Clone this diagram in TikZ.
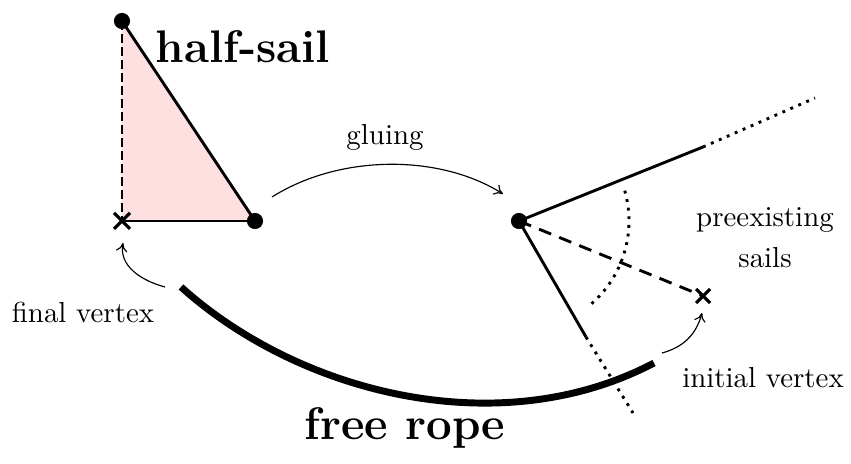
\documentclass[tikz,border=0pt]{standalone}
\usetikzlibrary{arrows.meta}
\definecolor{sailpink}{RGB}{255,224,224}
\begin{document}
\begin{tikzpicture}[x=0.346pt,y=0.346pt,
  edge/.style={line width=1pt},
  vdot/.style={circle,fill=black,inner sep=0pt,minimum size=5.6pt},
  thinarrow/.style={line width=0.4pt,-{To[length=3pt,width=4pt]}},
  lbl/.style={anchor=base,inner sep=0pt,font=\normalsize},
  biglbl/.style={anchor=base,inner sep=0pt,font=\fontsize{15.8}{18}\selectfont\bfseries},
  crossmark/.style={line width=1.1pt}]
\useasboundingbox (0,0) rectangle (851,464);
% half-sail
\coordinate (T) at (122,443);
\coordinate (F) at (122,243);
\coordinate (R) at (255,243);
\fill[sailpink] (T) -- (R) -- (F) -- cycle;
\draw[edge,dash pattern=on 3pt off 1.5pt] (T) -- (F);
\draw[edge] (T) -- (R);
\draw[edge] (F) -- (R);
\node[vdot] (Tn) at (T) {};
\node[vdot] (Rn) at (R) {};
\draw[crossmark] ([shift={(-8,-8)}]F) -- ([shift={(8,8)}]F);
\draw[crossmark] ([shift={(-8,8)}]F) -- ([shift={(8,-8)}]F);
\node[biglbl] (hs) at (243,401) {half-sail};
% gluing arrow
\coordinate (g1) at (272,267);
\coordinate (g2) at (503,270);
\draw[thinarrow] (g1) .. controls (340,310) and (440,310) .. (g2);
\node[lbl] (gl) at (385,319) {gluing};
% preexisting sails
\coordinate (D) at (519,243);
\coordinate (U1) at (703,317);
\coordinate (U2) at (815,366);
\coordinate (L1) at (586,127);
\coordinate (L2) at (633,51);
\coordinate (I) at (703,168);
\draw[edge] (D) -- (U1);
\draw[edge,dotted] (U1) -- (U2);
\draw[edge] (D) -- (L1);
\draw[edge,dotted] (L1) -- (L2);
\draw[edge,dash pattern=on 4.5pt off 3pt] (D) -- (I);
\draw[edge,dotted] (D) ++(16:110) arc[start angle=16,end angle=-50,radius=110];
\node[vdot] (Dn) at (D) {};
\draw[crossmark] ([shift={(-7,-7)}]I) -- ([shift={(7,7)}]I);
\draw[crossmark] ([shift={(-7,7)}]I) -- ([shift={(7,-7)}]I);
\node[lbl] (pre) at (765,237) {preexisting};
\node[lbl] (sa) at (765,196) {sails};
% free rope
\coordinate (r1) at (181,177);
\coordinate (r2) at (654,101);
\draw[line width=2.4pt] (r1) .. controls (300,70) and (500,20) .. (r2);
\node[biglbl] (fr) at (405,24) {free rope};
% vertex labels
\node[lbl] (iv) at (763,76) {initial vertex};
\node[lbl] (fv) at (83,141) {final vertex};
\coordinate (ia) at (662,111);
\coordinate (it) at (702,151);
\draw[thinarrow] (ia) to[out=15,in=-105] (it);
\coordinate (fa) at (165,177);
\coordinate (ft) at (123,221);
\draw[thinarrow] (fa) to[out=165,in=-100] (ft);
\end{tikzpicture}
\end{document}
